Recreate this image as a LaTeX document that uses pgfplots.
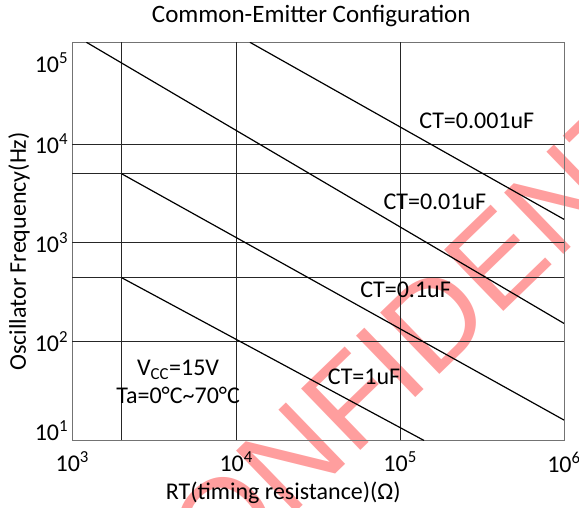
\documentclass[border=0pt]{standalone}
\usepackage{fontspec}
\setmainfont{Carlito}
\newfontfamily\wmfont{Liberation Sans}
\usepackage{pgfplots}
\pgfplotsset{compat=1.18}
\begin{document}
\fontsize{24}{28}\selectfont
\begin{tikzpicture}
\useasboundingbox (-72.3pt,-67.5pt) rectangle (506.7pt,440.5pt);
\node[rotate=44, text=red!38, font=\wmfont\fontsize{124}{124}\selectfont] at (380pt,138pt) {CONFIDENTIAL};
\begin{axis}[
  scale only axis, width=491.7pt, height=398.2pt,
  xmode=log, ymode=log,
  xmin=1e3, xmax=1e6, ymin=10, ymax=1.07e5,
  axis line style={black!55, line width=1pt},
  xtick={1e3,1e4,1e5,1e6},
  xticklabels={10\textsuperscript{3},10\textsuperscript{4},10\textsuperscript{5},10\textsuperscript{6}},
  ytick={12.5,100,1000,10000,66000},
  yticklabels={10\textsuperscript{1},10\textsuperscript{2},10\textsuperscript{3},10\textsuperscript{4},10\textsuperscript{5}},
  xminorticks=false, yminorticks=false,
  major tick length=0pt,
  extra x ticks={2000,10000,100000}, extra x tick labels={},
  extra y ticks={100,444,1000,5000,10000}, extra y tick labels={},
  extra tick style={grid=major, major tick length=0pt},
  grid style={black!85, line width=0.9pt},
  xticklabel style={anchor=north, inner sep=0pt, yshift=-11pt},
  yticklabel style={anchor=east, inner sep=0pt, xshift=-4pt},
  title={Common-Emitter Configuration},
  title style={at={(axis description cs:0.486,1)}, anchor=base, yshift=14pt, inner sep=0pt, font=\fontsize{25}{28}\selectfont},
  xlabel={RT(timing resistance)(Ω)},
  xlabel style={at={(axis description cs:0.429,0)}, anchor=base, yshift=-58.8pt, inner sep=0pt},
  ylabel={Oscillator Frequency(Hz)},
  ylabel style={at={(axis description cs:-0.0942,0.475)}, rotate=0, anchor=base, inner sep=0pt},
  clip=true,
]
\addplot[black, line width=1.2pt] coordinates {(1220,1.07e5) (1e6,153)};
\addplot[black, line width=1.2pt] coordinates {(12130,1.07e5) (1e6,1730)};
\addplot[black, line width=1.2pt] coordinates {(2000,5000) (1e6,16.1)};
\addplot[black, line width=1.2pt] coordinates {(2000,444) (1.40e5,10)};
\node at (axis cs:2.94e5,1.71e4) {CT=0.001uF};
\node at (axis cs:1.63e5,2590) {CT=0.01uF};
\node at (axis cs:1.08e5,334) {CT=0.1uF};
\node at (axis cs:6.03e4,44) {CT=1uF};
\node[align=center] at (axis cs:4420,39.1) {V\textsubscript{CC}=15V\\Ta=0°C\char"7E 70°C};
\end{axis}
\end{tikzpicture}
\end{document}
